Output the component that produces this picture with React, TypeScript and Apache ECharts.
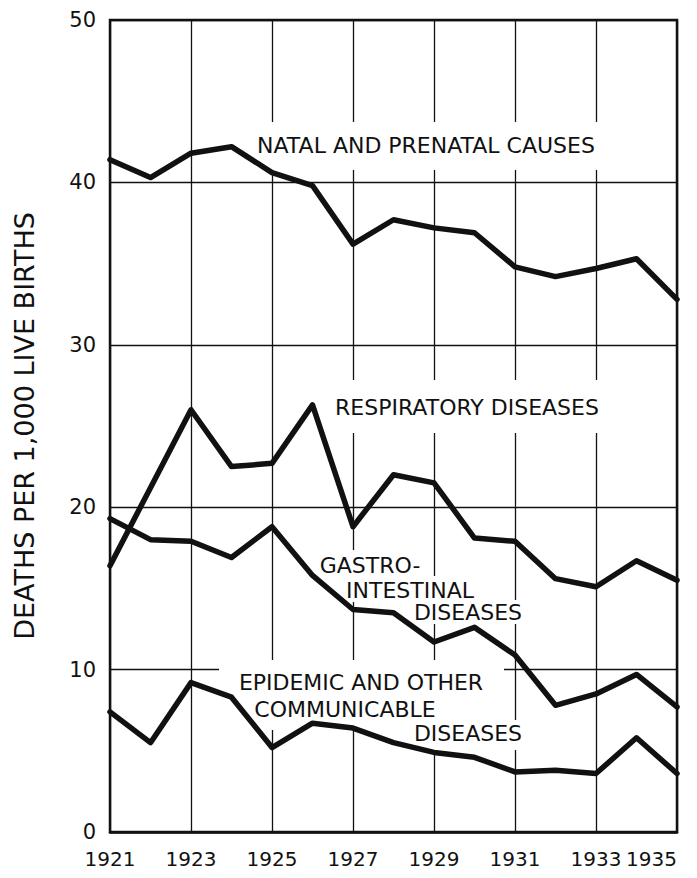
import React, { useEffect, useRef } from "react";
import * as echarts from "echarts";

const years = ["1921","1922","1923","1924","1925","1926","1927","1928","1929","1930","1931","1932","1933","1934","1935"];
const natalPrenatal = [41.4, 40.3, 41.8, 42.2, 40.6, 39.8, 36.2, 37.7, 37.2, 36.9, 34.8, 34.2, 34.7, 35.3, 32.8];
const respiratory = [16.4, 21.2, 26.0, 22.5, 22.7, 26.3, 18.8, 22.0, 21.5, 18.1, 17.9, 15.6, 15.1, 16.7, 15.5];
const gastroIntestinal = [19.3, 18.0, 17.9, 16.9, 18.8, 15.8, 13.7, 13.5, 11.7, 12.6, 10.9, 7.8, 8.5, 9.7, 7.7];
const epidemic = [7.4, 5.5, 9.2, 8.3, 5.2, 6.7, 6.4, 5.5, 4.9, 4.6, 3.7, 3.8, 3.6, 5.8, 3.6];

const yTitle = "DEATHS PER 1,000 LIVE BIRTHS";
const INK = "#111";
const FONT = "'DejaVu Sans', sans-serif";

export default function App() {
  const ref = useRef<HTMLDivElement>(null);
  useEffect(() => {
    if (!ref.current) return;
    const chart = echarts.init(ref.current, null, { renderer: "svg" });
    const mkSeries = (name: string, data: number[]) => ({
      name,
      type: "line",
      data,
      symbol: "none",
      z: 3,
      lineStyle: { color: INK, width: 5.5, join: "round", cap: "round" },
    });
    const mask = (x: number, y: number, w: number, h: number) => ({
      type: "rect",
      z: 1,
      silent: true,
      shape: { x, y, width: w, height: h },
      style: { fill: "#fff" },
    });
    const label = (text: string, x: number, y: number) => ({
      type: "text",
      z: 4,
      silent: true,
      x,
      y,
      style: {
        text,
        fill: INK,
        fontSize: 22,
        fontFamily: FONT,
        align: "center",
        verticalAlign: "middle",
      },
    });
    chart.setOption({
      animation: false,
      backgroundColor: "#fff",
      grid: {
        left: 110,
        right: 20,
        top: 20,
        bottom: 46,
        outerBoundsMode: "none",
        containLabel: false,
        show: true,
        borderColor: INK,
        borderWidth: 2.5,
      },
      xAxis: {
        type: "category",
        data: years,
        boundaryGap: false,
        axisLine: { show: true, lineStyle: { color: INK, width: 2.5 } },
        axisTick: { show: false },
        axisLabel: {
          interval: 1,
          color: INK,
          fontSize: 20,
          fontFamily: FONT,
          margin: 17,
          alignMaxLabel: "right",
        },
        splitLine: {
          show: true,
          interval: 1,
          lineStyle: { color: INK, width: 1.3 },
        },
      },
      yAxis: {
        type: "value",
        min: 0,
        max: 50,
        interval: 10,
        name: yTitle,
        nameLocation: "middle",
        nameGap: 72,
        nameTextStyle: { color: INK, fontSize: 27, fontFamily: FONT },
        axisLine: { show: true, lineStyle: { color: INK, width: 2 } },
        axisTick: { show: false },
        axisLabel: { color: INK, fontSize: 21, fontFamily: FONT, margin: 14 },
        splitLine: { show: true, lineStyle: { color: INK, width: 1.3 } },
      },
      graphic: [
        mask(247, 122, 360, 48),
        mask(320, 380, 296, 53),
        mask(310, 550, 120, 28),
        mask(335, 576, 150, 26),
        mask(405, 600, 127, 24),
        mask(219, 660, 285, 36),
        mask(245, 695, 200, 35),
        mask(405, 720, 127, 30),
        label("NATAL AND PRENATAL CAUSES", 426, 145),
        label("RESPIRATORY DISEASES", 467, 407),
        label("GASTRO-", 370, 565),
        label("INTESTINAL", 410, 590),
        label("DISEASES", 468, 612),
        label("EPIDEMIC AND OTHER", 361, 682),
        label("COMMUNICABLE", 345, 709),
        label("DISEASES", 468, 733),
      ],
      series: [
        mkSeries("Natal and prenatal causes", natalPrenatal),
        mkSeries("Respiratory diseases", respiratory),
        mkSeries("Gastro-intestinal diseases", gastroIntestinal),
        mkSeries("Epidemic and other communicable diseases", epidemic),
      ],
    });
    return () => chart.dispose();
  }, []);
  return (
    <div
      ref={ref}
      style={{ position: "fixed", left: 0, top: 0, width: 697, height: 878, background: "#fff" }}
    />
  );
}
